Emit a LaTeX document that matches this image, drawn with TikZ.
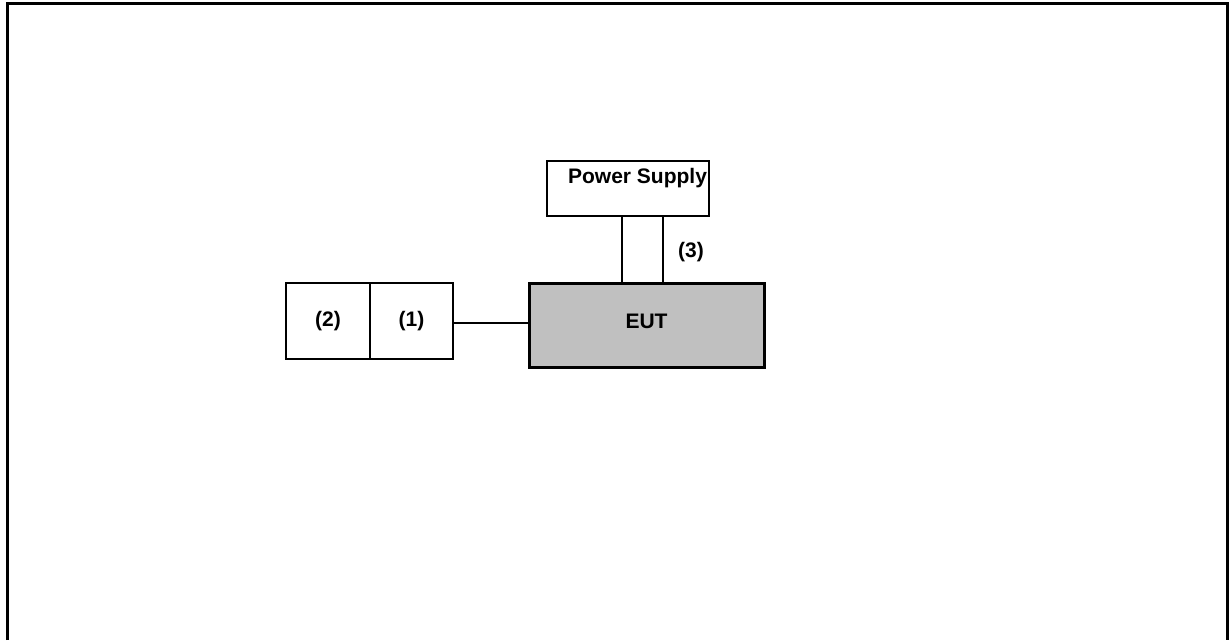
\documentclass[tikz,border=0pt]{standalone}
\usepackage{fontspec}
\setmainfont{Liberation Sans}
\usetikzlibrary{positioning}
\definecolor{eutgray}{RGB}{192,192,192}

\begin{document}
\begin{tikzpicture}[
    x=1pt, y=-1pt,
    font=\fontsize{21}{25}\selectfont\bfseries,
    block/.style ={rectangle, draw=black, line width=2pt, fill=white, text centered, inner sep=0pt, outer sep=0pt},
    line/.style ={draw, line width=2pt},
]
\useasboundingbox (0,0) rectangle (1231,640);

% Frame
\draw [line width=3pt] (7.5,640) -- (7.5,3.5) -- (1227.5,3.5) -- (1227.5,640);

% Nodes
\node [block, minimum width=162pt, minimum height=55pt] (supply) at (628,188.5) {\raisebox{5.5pt}[0pt][0pt]{\hspace*{19pt}Power Supply}};
\node [block, fill=eutgray, line width=3pt, minimum width=235pt, minimum height=84pt] (eut) at (646.5,325) {\raisebox{-3pt}[0pt][0pt]{EUT}};
\node [block, minimum width=84pt, minimum height=76pt] (two) at (328,321) {(2)};
\node [block, minimum width=83pt, minimum height=76pt, right=0pt of two] (one) {(1)};
\node (three) at (691,252) {(3)};

% Lines
\path [line] ([xshift=-6pt]supply.south) -- ([xshift=-6pt]supply.south |- eut.north);
\path [line] ([xshift=35pt]supply.south) -- ([xshift=35pt]supply.south |- eut.north);
\path [line] ([yshift=-2pt]one.east) -- ([yshift=-2pt]one.east -| eut.west);

\end{tikzpicture}
\end{document}
